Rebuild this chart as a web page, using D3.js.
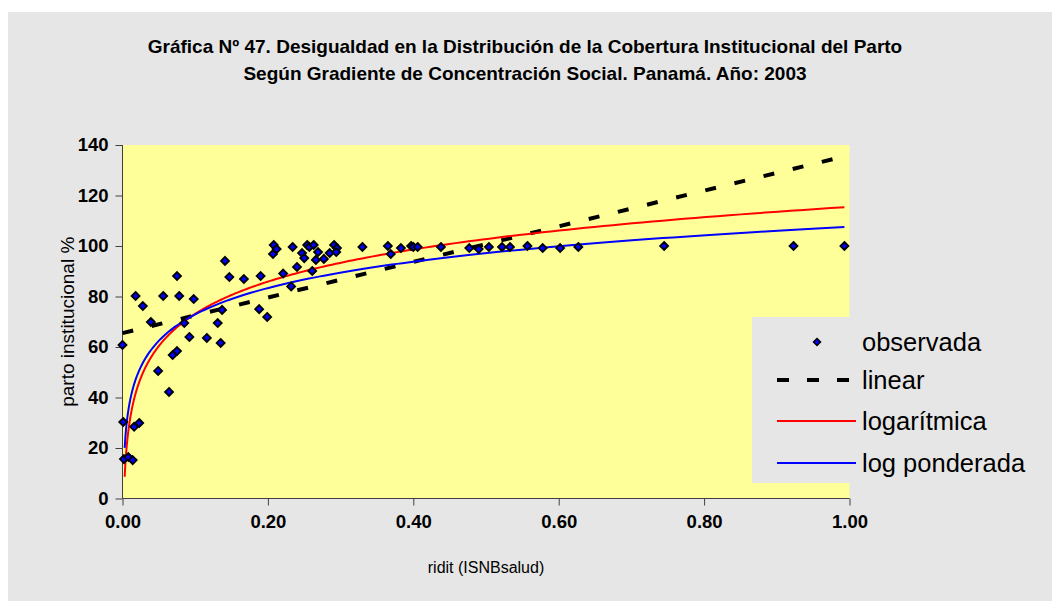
<!DOCTYPE html>
<html>
<head>
<meta charset="utf-8">
<script src="https://cdn.jsdelivr.net/npm/d3@7"></script>
<style>
  html, body { margin: 0; padding: 0; background: #ffffff; }
  svg { display: block; font-family: Arial, "Liberation Sans", sans-serif; }
</style>
</head>
<body>
<svg id="chart" width="1052" height="601"></svg>
<script>
// Observed points: ridit of the social index vs. institutional delivery coverage (%)
const ridit = [0.000, 0.001, 0.002, 0.008, 0.014, 0.016, 0.023, 0.018, 0.028, 0.039,
  0.049, 0.056, 0.064, 0.069, 0.075, 0.075, 0.078, 0.085, 0.092, 0.098,
  0.116, 0.131, 0.135, 0.137, 0.141, 0.147, 0.167, 0.188, 0.190, 0.199,
  0.207, 0.208, 0.212, 0.221, 0.232, 0.234, 0.240, 0.247, 0.250, 0.254,
  0.257, 0.261, 0.263, 0.266, 0.269, 0.277, 0.285, 0.291, 0.295, 0.294,
  0.330, 0.365, 0.369, 0.383, 0.397, 0.400, 0.406, 0.438, 0.477, 0.490,
  0.504, 0.522, 0.533, 0.557, 0.578, 0.602, 0.627, 0.745, 0.923, 0.993];
const parto = [60.8, 30.3, 15.6, 16.4, 15.2, 28.4, 29.9, 80.2, 76.2, 69.9,
  50.5, 80.2, 42.2, 56.8, 58.4, 88.1, 80.2, 69.5, 64.0, 79.0,
  63.6, 69.5, 61.6, 74.7, 94.1, 87.7, 86.9, 75.0, 88.1, 71.9,
  96.8, 100.4, 98.8, 89.1, 84.0, 99.6, 91.7, 97.2, 95.2, 100.4,
  99.6, 90.1, 100.4, 94.5, 97.6, 94.9, 97.2, 100.4, 99.2, 97.6,
  99.6, 100.0, 96.8, 99.2, 100.0, 99.6, 99.6, 99.6, 99.2, 98.8,
  99.6, 99.6, 99.6, 100.0, 99.2, 99.2, 99.6, 100.0, 100.0, 100.0];

// Trendline coefficients
const linearFit = { intercept: 65.5, slope: 70.5 };      // y = a + b·x
const logFit = { intercept: 115.5, slope: 18.4 };        // y = a + b·ln(x)
const logWeightedFit = { intercept: 107.6, slope: 15.07 };
const fitRange = [0.003, 0.993];

const xTicks = [0, 0.2, 0.4, 0.6, 0.8, 1.0];
const yTicks = [0, 20, 40, 60, 80, 100, 120, 140];

const titleLines = [
  "Gráfica Nº 47. Desigualdad en la Distribución de la Cobertura Institucional del Parto",
  "Según Gradiente de Concentración Social. Panamá. Año: 2003"
];
const legendItems = ["observada", "linear", "logarítmica", "log ponderada"];

const svg = d3.select("#chart");

// chart area
svg.append("rect").attr("x", 8).attr("y", 12).attr("width", 1044).attr("height", 589)
  .attr("fill", "#e6e6e6");

const plot = { left: 122.5, right: 849.5, top: 145, bottom: 498.5 };
const x = d3.scaleLinear().domain([0, 1]).range([plot.left, plot.right]);
const y = d3.scaleLinear().domain([0, 140]).range([plot.bottom, plot.top]);

svg.append("rect").attr("x", plot.left).attr("y", plot.top)
  .attr("width", plot.right - plot.left).attr("height", plot.bottom - plot.top)
  .attr("fill", "#ffff99");

// title
svg.append("g").selectAll("text").data(titleLines).join("text")
  .attr("x", 525).attr("y", (d, i) => 53 + i * 27)
  .attr("text-anchor", "middle").attr("font-weight", "bold").attr("font-size", 19)
  .attr("fill", "#000").text(d => d);

// axes
const yAxis = svg.append("g").attr("transform", `translate(${plot.left},0)`)
  .call(d3.axisLeft(y).tickValues(yTicks).tickSize(7).tickPadding(7).tickFormat(d3.format("d")));
const xAxis = svg.append("g").attr("transform", `translate(0,${plot.bottom})`)
  .call(d3.axisBottom(x).tickValues(xTicks).tickSize(7).tickPadding(9).tickFormat(d3.format(".2f")));
[yAxis, xAxis].forEach(a => {
  a.select(".domain").attr("stroke", "#404040").attr("stroke-width", 1);
  a.selectAll(".tick line").attr("stroke", "#404040");
  a.selectAll(".tick text").attr("font-size", 18.5).attr("font-weight", "bold")
    .attr("fill", "#000").attr("font-family", "Arial, 'Liberation Sans', sans-serif");
});
// plain axis lines without the outer end ticks
yAxis.select(".domain").attr("d", `M0,${plot.top}V${plot.bottom}`);
xAxis.select(".domain").attr("d", `M${plot.left},0H${plot.right}`);

// axis titles
svg.append("text").attr("x", 486).attr("y", 573).attr("text-anchor", "middle")
  .attr("font-size", 16).attr("fill", "#000").text("ridit (ISNBsalud)");
svg.append("text").attr("transform", `translate(74,${(plot.top + plot.bottom) / 2}) rotate(-90)`)
  .attr("text-anchor", "middle").attr("font-size", 19).attr("fill", "#000")
  .text("parto institucional %");

// trendlines
const logSamples = d3.range(0, 301).map(i => fitRange[0] * Math.pow(fitRange[1] / fitRange[0], i / 300));
const line = d3.line().x(d => x(d[0])).y(d => y(d[1]));

svg.append("path")
  .attr("d", line([0, fitRange[1]].map(v => [v, linearFit.intercept + linearFit.slope * v])))
  .attr("fill", "none").attr("stroke", "#000").attr("stroke-width", 4)
  .attr("stroke-dasharray", "11,19");
svg.append("path")
  .attr("d", line(logSamples.map(v => [v, logFit.intercept + logFit.slope * Math.log(v)])))
  .attr("fill", "none").attr("stroke", "#ff0000").attr("stroke-width", 2);
svg.append("path")
  .attr("d", line(logSamples.map(v => [v, logWeightedFit.intercept + logWeightedFit.slope * Math.log(v)])))
  .attr("fill", "none").attr("stroke", "#0000ff").attr("stroke-width", 2);

// observed points
const diamond = "M0,-4L4,0L0,4L-4,0Z";
svg.append("g").selectAll("path").data(ridit).join("path")
  .attr("transform", (d, i) => `translate(${x(d)},${y(parto[i])})`)
  .attr("d", diamond).attr("fill", "#0000ff").attr("stroke", "#000").attr("stroke-width", 1.8);

// legend
const lg = svg.append("g");
lg.append("rect").attr("x", 752).attr("y", 317).attr("width", 293).attr("height", 166)
  .attr("fill", "#e6e6e6");
const rowY = [342, 380, 421, 463];
lg.selectAll("text").data(legendItems).join("text")
  .attr("x", 862).attr("y", (d, i) => rowY[i] + 8.5)
  .attr("font-size", 25.5).attr("fill", "#000").text(d => d);
lg.append("path").attr("transform", `translate(817,${rowY[0]})`).attr("d", "M0,-3.5L3.5,0L0,3.5L-3.5,0Z")
  .attr("fill", "#0000ff").attr("stroke", "#000").attr("stroke-width", 1.5);
lg.append("line").attr("x1", 777).attr("x2", 856).attr("y1", rowY[1]).attr("y2", rowY[1])
  .attr("stroke", "#000").attr("stroke-width", 4).attr("stroke-dasharray", "12,18");
lg.append("line").attr("x1", 777).attr("x2", 856).attr("y1", rowY[2]).attr("y2", rowY[2])
  .attr("stroke", "#ff0000").attr("stroke-width", 2);
lg.append("line").attr("x1", 777).attr("x2", 856).attr("y1", rowY[3]).attr("y2", rowY[3])
  .attr("stroke", "#0000ff").attr("stroke-width", 2);
</script>
</body>
</html>
